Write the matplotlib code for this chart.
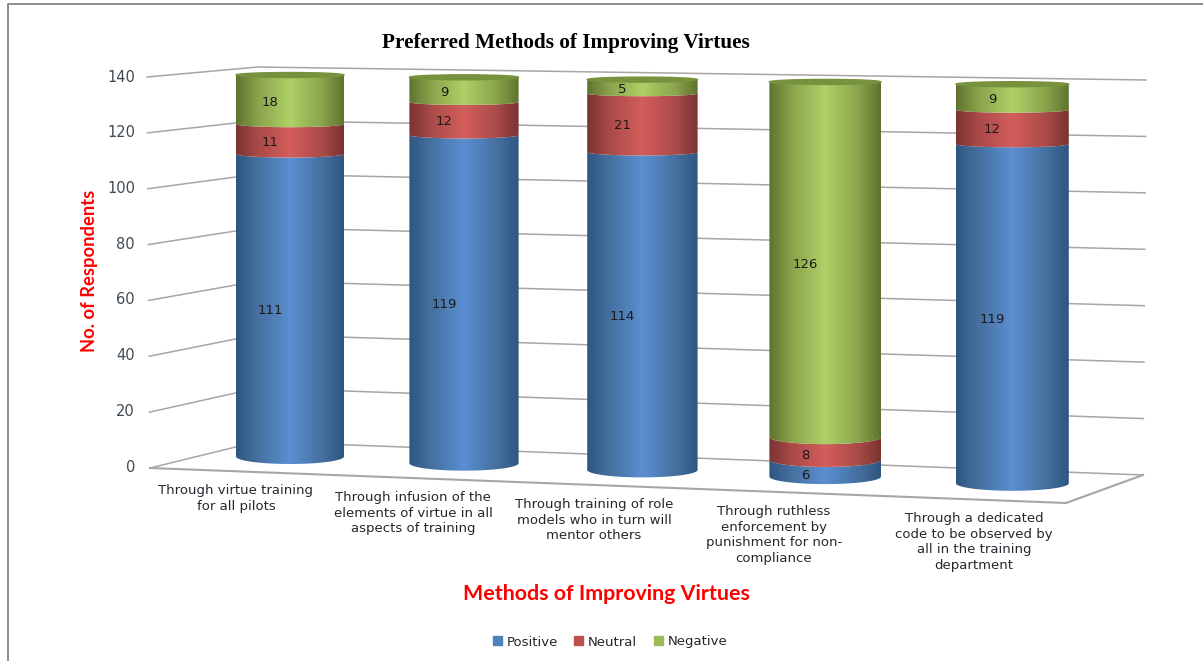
# preferred_methods_chart.py
import numpy as np
import matplotlib
matplotlib.use("Agg")
import matplotlib.pyplot as plt
from matplotlib.colors import LinearSegmentedColormap
from matplotlib.patches import Ellipse, PathPatch, Patch
from matplotlib.path import Path

categories = [
    "Through virtue training\nfor all pilots",
    "Through infusion of the\nelements of virtue in all\naspects of training",
    "Through training of role\nmodels who in turn will\nmentor others",
    "Through ruthless\nenforcement by\npunishment for non-\ncompliance",
    "Through a dedicated\ncode to be observed by\nall in the training\ndepartment",
]
positive = [111, 119, 114, 6, 119]
neutral = [11, 12, 21, 8, 12]
negative = [18, 9, 5, 126, 9]
y_ticks = [0, 20, 40, 60, 80, 100, 120, 140]

series = [("Positive", positive), ("Neutral", neutral), ("Negative", negative)]
Y_MAX = 140

plt.rcParams["font.family"] = ["DejaVu Sans"]

# edge / shoulder / middle shades of each cylinder
shades = {
    "Positive": ("#2f5681", "#45709f", "#5b8fd2", "#4f81bd"),
    "Neutral": ("#7a3332", "#a94a48", "#d35e5b", "#c0504d"),
    "Negative": ("#5f732d", "#8aa34c", "#aed166", "#9bbb59"),
}
cap_color = "#76923c"

fig = plt.figure(figsize=(12.03, 6.61), dpi=100)
ax = fig.add_axes([0, 0, 1, 1])
W, H = 1203, 661


# ------------------ fake perspective of the Excel 3D chart ------------------ #
def lerp(a, b, t):
    return a + (b - a) * t


def bar_x(i):
    return 290 + 174 * i + 2.2 * i * (i - 1)


def bar_y(i, v):
    return lerp(456.5 + 6.7 * i, 75 + 2.3 * i, v / Y_MAX)


def bar_halfwidth(i):
    return 54 + 0.6 * i


def bar_ry(v):
    return lerp(7.5, 2.5, v / Y_MAX)


def wall_line(v):
    t = v / Y_MAX
    return ([lerp(150, 147, t), 258, lerp(1143, 1146, t)],
            [lerp(468, 77, t), lerp(441.5, 67, t), lerp(475, 80, t)])


def segment_path(i, v0, v1):
    cx, hw = bar_x(i), bar_halfwidth(i)
    xs = cx + hw * np.cos(np.linspace(np.pi, 0, 41))
    s = np.sin(np.linspace(np.pi, 0, 41))
    low = bar_y(i, v0) + bar_ry(v0) * s
    high = bar_y(i, v1) + bar_ry(v1) * s
    pts = np.column_stack([np.r_[xs, xs[::-1]], np.r_[low, high[::-1]]])
    return Path(np.vstack([pts, pts[0]]), closed=True)


# ------------------ walls and floor ------------------ #
for v in y_ticks:
    xs, ys = wall_line(v)
    ax.plot(xs, ys, color="#a6a6a6", lw=1.1, zorder=1)
    ax.text(135, lerp(467, 77, v / Y_MAX), str(v), ha="right", va="center",
            fontsize=10.5, color="#404a55", zorder=5)

xs, ys = wall_line(0)
ax.plot([xs[0], 1066, xs[2]], [ys[0], 503, ys[2]], color="#a6a6a6", lw=1.5, zorder=1)

# ------------------ cylinders ------------------ #
grad = np.linspace(0, 1, 256).reshape(1, -1)
for i in range(len(categories)):
    bottom = 0
    for name, values in series:
        top = bottom + values[i]
        edge, shoulder, mid, _ = shades[name]
        cmap = LinearSegmentedColormap.from_list(
            name, [(0, edge), (0.2, shoulder), (0.5, mid), (0.8, shoulder), (1, edge)])
        cx, hw = bar_x(i), bar_halfwidth(i)
        im = ax.imshow(grad, cmap=cmap, aspect="auto", zorder=3 + 0.01 * top,
                       extent=[cx - hw, cx + hw, H, 0])
        im.set_clip_path(PathPatch(segment_path(i, bottom, top), transform=ax.transData))
        label_y = bar_y(i, (bottom + top) / 2) + bar_ry((bottom + top) / 2)
        ax.text(cx - 20, label_y, str(values[i]), ha="center", va="center",
                fontsize=9.5, color="#1a1a1a", zorder=6)
        bottom = top
    cap = Ellipse((bar_x(i), bar_y(i, bottom)), 2 * bar_halfwidth(i), 2 * bar_ry(bottom),
                  color=cap_color, zorder=5)
    ax.add_patch(cap)

# ------------------ text ------------------ #
label_pos = [(236, 484), (413, 491), (594, 498), (774, 505), (974, 512)]
for label, (x, y) in zip(categories, label_pos):
    ax.text(x, y, label, ha="center", va="top", fontsize=9.5, color="#26262e",
            linespacing=1.27, zorder=6)

ax.text(566, 43, "Preferred Methods of Improving Virtues", ha="center", va="center",
        family="Liberation Serif", fontweight="bold", fontsize=15.3, color="black")
ax.text(89, 271, "No. of Respondents", rotation=90, ha="center", va="center",
        family="Lato", fontweight="bold", fontsize=13.2, color="#ff0000")
ax.text(606, 594, "Methods of Improving Virtues", ha="center", va="center",
        family="Lato", fontweight="bold", fontsize=15.4, color="#ff0000")

handles = [Patch(color=shades[name][3], label=name) for name, _ in series]
ax.legend(handles=handles, loc="center", bbox_to_anchor=(610 / W, 1 - 642 / H), ncol=3,
          frameon=False, fontsize=9.5, handlelength=0.68, handleheight=0.68,
          handletextpad=0.35, columnspacing=1.25, labelcolor="#26262e")

# page frame
ax.plot([7.5, 7.5, W], [H, 3.5, 3.5], color="#8c8c8c", lw=1.4, zorder=1)

ax.set_xlim(0, W)
ax.set_ylim(H, 0)
ax.axis("off")

fig.savefig("out.png", dpi=100)
